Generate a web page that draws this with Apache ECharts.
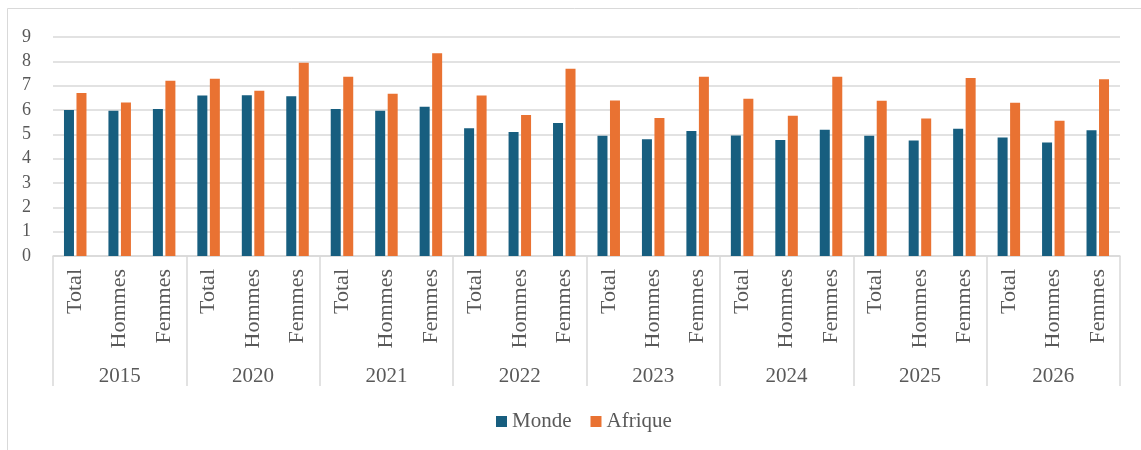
<!DOCTYPE html>
<html>
<head>
<meta charset="utf-8">
<script src="https://cdn.jsdelivr.net/npm/echarts@6/dist/echarts.min.js"></script>
<style>
html,body{margin:0;padding:0;background:#fff;}
#chart{width:1141px;height:450px;}
</style>
</head>
<body>
<div id="chart"></div>
<script>
var years = ['2015','2020','2021','2022','2023','2024','2025','2026'];
var groups = ['Total','Hommes','Femmes'];
var yTicks = [0,1,2,3,4,5,6,7,8,9];
var monde = [6.00,5.97,6.04, 6.60,6.61,6.57, 6.04,5.97,6.13, 5.25,5.10,5.47, 4.94,4.80,5.14, 4.95,4.77,5.19, 4.94,4.75,5.23, 4.87,4.66,5.17];
var afrique = [6.70,6.31,7.20, 7.28,6.79,7.94, 7.37,6.67,8.33, 6.60,5.79,7.70, 6.39,5.67,7.37, 6.46,5.76,7.37, 6.38,5.65,7.31, 6.30,5.56,7.26];

var cats = [];
years.forEach(function(y){ groups.forEach(function(g){ cats.push(g); }); });

var FONT = "Liberation Serif";
var TXT = '#595959';
var LINE = '#d9d9d9';

var chart = echarts.init(document.getElementById('chart'), null, {renderer:'canvas'});
chart.setOption({
  animation:false,
  backgroundColor:'#ffffff',
  textStyle:{fontFamily:FONT},
  graphic:[{type:'rect',shape:{x:7.5,y:8.5,width:1200,height:500},style:{fill:'none',stroke:LINE,lineWidth:1}}],
  grid:{left:53,right:21,top:37,bottom:194,containLabel:false},
  legend:{
    data:['Monde','Afrique'],
    top:406,left:491,
    itemWidth:11,itemHeight:11,itemGap:19,
    icon:'rect',
    textStyle:{fontFamily:FONT,fontSize:21,color:TXT}
  },
  xAxis:[{
    type:'category',data:cats,position:'bottom',
    axisLine:{show:true,lineStyle:{color:LINE,width:1.5}},
    axisTick:{show:false},
    axisLabel:{rotate:90,interval:0,margin:13,fontFamily:FONT,fontSize:22,color:TXT}
  },{
    type:'category',data:years,position:'bottom',
    axisLine:{show:false},
    axisTick:{show:true,length:130,interval:0,lineStyle:{color:LINE,width:1.5}},
    axisLabel:{interval:0,margin:110,fontFamily:FONT,fontSize:21,color:TXT}
  }],
  yAxis:{
    type:'value',min:yTicks[0],max:yTicks[yTicks.length-1],interval:1,
    axisLine:{show:false},axisTick:{show:false},
    splitLine:{lineStyle:{color:LINE,width:1.5}},
    axisLabel:{margin:22,fontFamily:FONT,fontSize:18,color:TXT}
  },
  series:[
    {name:'Monde',type:'bar',xAxisIndex:0,data:monde,barWidth:10,barGap:'25%',itemStyle:{color:'#175e7f'}},
    {name:'Afrique',type:'bar',xAxisIndex:0,data:afrique,barWidth:10,barGap:'25%',itemStyle:{color:'#e97232'}}
  ]
});
</script>
</body>
</html>
